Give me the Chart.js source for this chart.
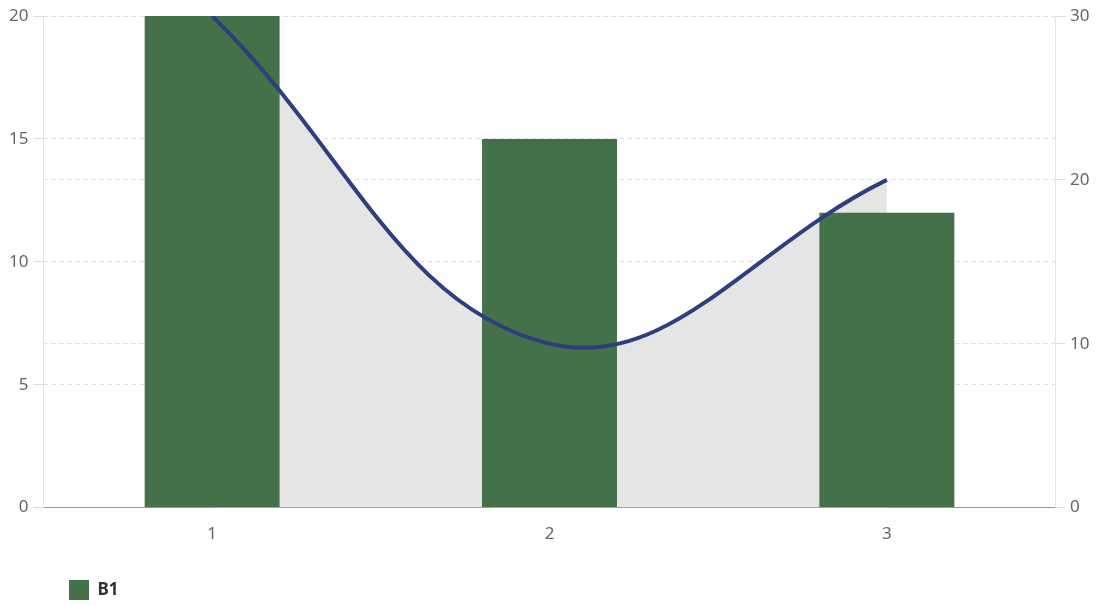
<!DOCTYPE html>
<html>
<head>
<meta charset="utf-8">
<script src="https://cdn.jsdelivr.net/npm/chart.js@4/dist/chart.umd.min.js"></script>
<style>
  html, body { margin: 0; padding: 0; background: #fff; }
  #wrap { width: 1098px; height: 606px; }
</style>
</head>
<body>
<div id="wrap"><canvas id="graphe"></canvas></div>
<script>
// données du graphique
const categories = ['1', '2', '3'];
const valeursBarres = [20, 15, 12];   // axe gauche
const valeursLigne = [30, 10, 20];    // axe droit

Chart.defaults.font.family = '"Noto Sans", sans-serif';
Chart.defaults.font.size = 17;
Chart.defaults.color = '#666';

const grille = { color: '#dedede', lineWidth: 1, tickLength: 10, tickColor: '#dedede' };

// décale la légende vers la droite et un peu vers le bas
const decalageLegende = {
  id: 'decalageLegende',
  afterLayout(chart) {
    chart.legend.left += 58;
    chart.legend.right += 58;
    chart.legend.top += 4;
    chart.legend.bottom += 4;
  }
};

new Chart(document.getElementById('graphe').getContext('2d'), {
  data: {
    labels: categories,
    datasets: [
      {
        type: 'line',
        label: '',
        data: valeursLigne,
        yAxisID: 'y2',
        borderColor: '#2f3f7e',
        borderWidth: 4,
        backgroundColor: '#e5e5e5',
        fill: 'origin',
        tension: 0.4,
        pointRadius: 0
      },
      {
        type: 'bar',
        label: 'B1',
        data: valeursBarres,
        yAxisID: 'y',
        backgroundColor: '#44704a',
        categoryPercentage: 0.5,
        barPercentage: 0.8
      }
    ]
  },
  plugins: [decalageLegende],
  options: {
    responsive: true,
    maintainAspectRatio: false,
    animation: false,
    layout: { padding: { top: 16, right: 4, left: 4, bottom: 0 } },
    plugins: {
      filler: { drawTime: 'beforeDatasetsDraw' },
      tooltip: { enabled: false },
      legend: {
        position: 'bottom',
        align: 'start',
        labels: {
          filter: item => item.text === 'B1', // seule la série des barres
          color: '#333',
          font: { size: 17, weight: 'bold' },
          boxWidth: 20,
          boxHeight: 20,
          padding: 7
        }
      }
    },
    scales: {
      x: {
        grid: { display: false },
        border: { display: true, color: '#999' },
        ticks: { padding: 8 },
        afterFit: s => { s.height += 17; }
      },
      y: {
        position: 'left',
        min: 0,
        max: 20,
        ticks: { stepSize: 5, padding: 5 },
        grid: grille,
        border: { display: true, color: '#e4e4e4', dash: [4, 4] }
      },
      y2: {
        position: 'right',
        min: 0,
        max: 30,
        ticks: { stepSize: 10, padding: 4.5 },
        grid: grille,
        border: { display: true, color: '#e4e4e4', dash: [4, 4] }
      }
    }
  }
});
</script>
</body>
</html>
